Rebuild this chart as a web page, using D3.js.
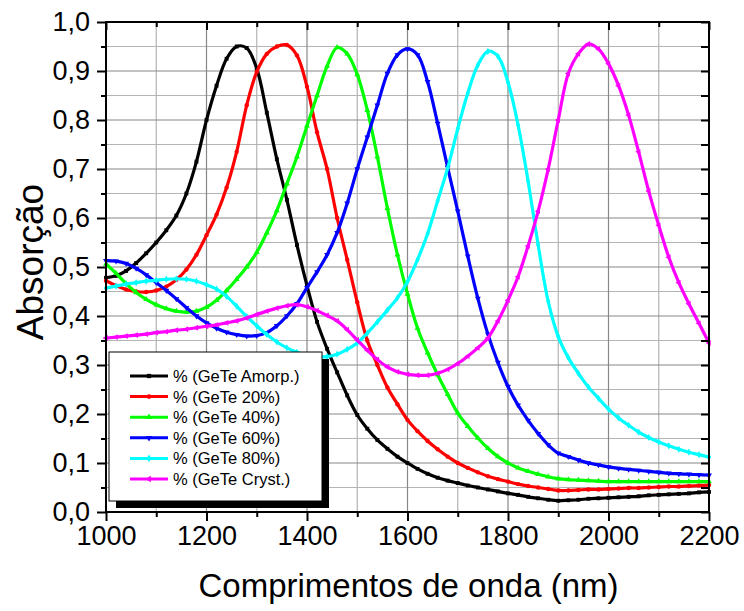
<!DOCTYPE html>
<html>
<head>
<meta charset="utf-8">
<script src="https://cdn.jsdelivr.net/npm/d3@7/dist/d3.min.js"></script>
<style>
body { margin: 0; background: #fff; }
svg { display: block; }
svg text { font-family: Arial, "Liberation Sans", Helvetica, sans-serif; fill: #000; }
</style>
</head>
<body>
<svg id="chart" width="744" height="611"></svg>
<script>
// wavelength grid (nm)
const wavelengths = d3.range(1000, 2201, 20);

const amorp = [0.478, 0.482, 0.492, 0.508, 0.528, 0.550, 0.575, 0.605, 0.650, 0.715,
    0.800, 0.870, 0.925, 0.950, 0.947, 0.905, 0.815, 0.720, 0.637, 0.545,
    0.462, 0.388, 0.333, 0.285, 0.238, 0.198, 0.170, 0.147, 0.129, 0.113,
    0.100, 0.088, 0.078, 0.070, 0.064, 0.059, 0.054, 0.050, 0.046, 0.042,
    0.038, 0.035, 0.031, 0.028, 0.025, 0.023, 0.024, 0.025, 0.027, 0.028,
    0.029, 0.030, 0.031, 0.032, 0.034, 0.035, 0.036, 0.037, 0.038, 0.040, 0.041];
const gete20 = [0.472, 0.462, 0.454, 0.450, 0.449, 0.452, 0.460, 0.474, 0.495, 0.525,
    0.565, 0.607, 0.662, 0.735, 0.830, 0.898, 0.935, 0.950, 0.953, 0.932,
    0.868, 0.775, 0.700, 0.600, 0.515, 0.428, 0.350, 0.300, 0.254, 0.220,
    0.188, 0.165, 0.145, 0.128, 0.113, 0.100, 0.090, 0.081, 0.073, 0.067,
    0.062, 0.057, 0.053, 0.050, 0.047, 0.044, 0.044, 0.045, 0.046, 0.046,
    0.047, 0.048, 0.049, 0.049, 0.050, 0.051, 0.052, 0.052, 0.053, 0.054, 0.055];
const gete40 = [0.506, 0.487, 0.466, 0.448, 0.434, 0.423, 0.415, 0.410, 0.408, 0.410,
    0.418, 0.432, 0.452, 0.475, 0.500, 0.530, 0.570, 0.615, 0.670, 0.725,
    0.788, 0.850, 0.910, 0.948, 0.935, 0.893, 0.820, 0.725, 0.620, 0.525,
    0.445, 0.375, 0.325, 0.280, 0.240, 0.202, 0.175, 0.151, 0.130, 0.113,
    0.100, 0.090, 0.083, 0.077, 0.072, 0.068, 0.066, 0.065, 0.064, 0.063,
    0.062, 0.062, 0.062, 0.062, 0.062, 0.062, 0.062, 0.062, 0.062, 0.062, 0.062];
const gete60 = [0.513, 0.512, 0.507, 0.497, 0.484, 0.468, 0.452, 0.435, 0.417, 0.400,
    0.386, 0.375, 0.367, 0.362, 0.359, 0.360, 0.366, 0.380, 0.400, 0.425,
    0.458, 0.490, 0.525, 0.570, 0.630, 0.700, 0.765, 0.830, 0.895, 0.933,
    0.945, 0.933, 0.878, 0.793, 0.703, 0.614, 0.522, 0.436, 0.363, 0.305,
    0.256, 0.218, 0.187, 0.160, 0.137, 0.120, 0.113, 0.106, 0.100, 0.096,
    0.092, 0.089, 0.087, 0.085, 0.083, 0.081, 0.079, 0.078, 0.077, 0.076, 0.075];
const gete80 = [0.457, 0.461, 0.465, 0.468, 0.471, 0.473, 0.475, 0.476, 0.475, 0.471,
    0.464, 0.455, 0.440, 0.420, 0.399, 0.380, 0.362, 0.347, 0.335, 0.326,
    0.320, 0.317, 0.317, 0.322, 0.332, 0.345, 0.365, 0.388, 0.412, 0.437,
    0.470, 0.515, 0.568, 0.635, 0.702, 0.782, 0.855, 0.912, 0.940, 0.930,
    0.877, 0.790, 0.675, 0.545, 0.430, 0.358, 0.315, 0.283, 0.255, 0.232,
    0.210, 0.192, 0.177, 0.163, 0.152, 0.143, 0.135, 0.128, 0.122, 0.117, 0.112];
const cryst = [0.355, 0.357, 0.359, 0.361, 0.363, 0.366, 0.368, 0.371, 0.373, 0.376,
    0.379, 0.382, 0.386, 0.390, 0.396, 0.403, 0.410, 0.416, 0.421, 0.423,
    0.419, 0.411, 0.401, 0.390, 0.372, 0.351, 0.330, 0.311, 0.296, 0.286,
    0.281, 0.279, 0.279, 0.283, 0.291, 0.303, 0.318, 0.335, 0.355, 0.390,
    0.432, 0.480, 0.543, 0.614, 0.700, 0.800, 0.895, 0.935, 0.955, 0.945,
    0.915, 0.870, 0.810, 0.735, 0.655, 0.585, 0.520, 0.468, 0.425, 0.385, 0.345];

const seriesNames = ["% (GeTe Amorp.)", "% (GeTe 20%)", "% (GeTe 40%)",
    "% (GeTe 60%)", "% (GeTe 80%)", "% (GeTe Cryst.)"];
const seriesValues = [amorp, gete20, gete40, gete60, gete80, cryst];
const seriesColors = ["#000000", "#ff0000", "#00ff00", "#0000ff", "#00ffff", "#ff00ff"];
const seriesSymbols = [
    [d3.symbolSquare, 0], [d3.symbolCircle, 0], [d3.symbolTriangle, 0],
    [d3.symbolTriangle, 180], [d3.symbolDiamond, 0], [d3.symbolTriangle, -90]
];

const xMajor = [1000, 1200, 1400, 1600, 1800, 2000, 2200];
const xMinor = [1100, 1300, 1500, 1700, 1900, 2100];
const yMajor = [0, 0.1, 0.2, 0.3, 0.4, 0.5, 0.6, 0.7, 0.8, 0.9, 1.0];
const yMinor = [0.05, 0.15, 0.25, 0.35, 0.45, 0.55, 0.65, 0.75, 0.85, 0.95];

const xTitle = "Comprimentos de onda (nm)";
const yTitle = "Absorção";

const margin = { left: 106, top: 22, right: 35, bottom: 99 };
const W = 744, H = 611;
const pw = W - margin.left - margin.right;
const ph = H - margin.top - margin.bottom;

const svg = d3.select("#chart");
const g = svg.append("g").attr("transform", `translate(${margin.left},${margin.top})`);

const x = d3.scaleLinear().domain([1000, 2200]).range([0, pw]);
const y = d3.scaleLinear().domain([0, 1.0]).range([ph, 0]);

const fmt = d3.formatLocale({ decimal: ",", thousands: ".", grouping: [3], currency: ["", ""] });
const yFmt = fmt.format(".1f");

// grid
g.append("g").selectAll("line").data(xMinor).join("line")
    .attr("x1", d => x(d)).attr("x2", d => x(d)).attr("y1", 0).attr("y2", ph)
    .attr("stroke", "#b4b4b4").attr("stroke-width", 1.2);
g.append("g").selectAll("line").data(yMinor).join("line")
    .attr("x1", 0).attr("x2", pw).attr("y1", d => y(d)).attr("y2", d => y(d))
    .attr("stroke", "#b4b4b4").attr("stroke-width", 1.2);
g.append("g").selectAll("line").data(xMajor).join("line")
    .attr("x1", d => x(d)).attr("x2", d => x(d)).attr("y1", 0).attr("y2", ph)
    .attr("stroke", "#888").attr("stroke-width", 1.2);
g.append("g").selectAll("line").data(yMajor).join("line")
    .attr("x1", 0).attr("x2", pw).attr("y1", d => y(d)).attr("y2", d => y(d))
    .attr("stroke", "#888").attr("stroke-width", 1.2);

// curves
svg.append("defs").append("clipPath").attr("id", "plotclip")
    .append("rect").attr("x", -3).attr("y", -3).attr("width", pw + 6).attr("height", ph + 6);

const line = d3.line()
    .x((d, i) => x(wavelengths[i]))
    .y(d => y(d))
    .curve(d3.curveCatmullRom.alpha(0.5));

const curves = g.append("g").attr("clip-path", "url(#plotclip)");
seriesValues.forEach((vals, k) => {
    curves.append("path")
        .attr("d", line(vals))
        .attr("fill", "none")
        .attr("stroke", seriesColors[k])
        .attr("stroke-width", 3.2);
    const sym = d3.symbol().type(seriesSymbols[k][0]).size(15);
    curves.append("g").selectAll("path").data(vals).join("path")
        .attr("d", sym)
        .attr("transform", (d, i) => `translate(${x(wavelengths[i])},${y(d)}) rotate(${seriesSymbols[k][1]})`)
        .attr("fill", seriesColors[k]);
});

// axes
const fontTick = 27;
const bottomAxis = g.append("g").attr("transform", `translate(0,${ph})`)
    .call(d3.axisBottom(x).tickValues(xMajor).tickSize(9).tickPadding(5).tickFormat(d3.format("d")));
g.append("g").attr("transform", `translate(0,${ph})`)
    .call(d3.axisBottom(x).tickValues(xMinor).tickSize(5).tickFormat(""));
g.append("g")
    .call(d3.axisTop(x).tickValues(xMajor).tickSize(-8).tickFormat(""));
g.append("g")
    .call(d3.axisTop(x).tickValues(xMinor).tickSize(-5).tickFormat(""));
const leftAxis = g.append("g")
    .call(d3.axisLeft(y).tickValues(yMajor).tickSize(9).tickPadding(7).tickFormat(yFmt));
g.append("g")
    .call(d3.axisLeft(y).tickValues(yMinor).tickSize(5).tickFormat(""));
g.append("g").attr("transform", `translate(${pw},0)`)
    .call(d3.axisRight(y).tickValues(yMajor.concat(yMinor)).tickSize(-8).tickFormat(""));

g.selectAll(".domain").remove();
g.selectAll(".tick line").attr("stroke", "#000").attr("stroke-width", 2);
g.selectAll("g").attr("font-family", null);
bottomAxis.selectAll("text").attr("font-size", fontTick).attr("fill", "#000");
leftAxis.selectAll("text").attr("font-size", fontTick).attr("fill", "#000");

// frame
g.append("rect").attr("x", 0).attr("y", 0).attr("width", pw).attr("height", ph)
    .attr("fill", "none").attr("stroke", "#000").attr("stroke-width", 2);

// titles
svg.append("text")
    .attr("x", margin.left + pw / 2 + 1).attr("y", 597)
    .attr("text-anchor", "middle").attr("font-size", 33)
    .text(xTitle);
svg.append("text")
    .attr("transform", `translate(43,${margin.top + ph / 2 - 5}) rotate(-90)`)
    .attr("text-anchor", "middle").attr("font-size", 37)
    .text(yTitle);

// legend
const lg = svg.append("g").attr("transform", "translate(109,352)");
lg.append("rect").attr("x", 7).attr("y", 7).attr("width", 213).attr("height", 149).attr("fill", "#000");
lg.append("rect").attr("x", 0).attr("y", 0).attr("width", 213).attr("height", 149)
    .attr("fill", "#fff").attr("stroke", "#000").attr("stroke-width", 1);
seriesNames.forEach((name, k) => {
    const ry = 24 + k * 20.6;
    lg.append("line").attr("x1", 21).attr("x2", 59).attr("y1", ry).attr("y2", ry)
        .attr("stroke", seriesColors[k]).attr("stroke-width", 3);
    lg.append("path")
        .attr("d", d3.symbol().type(seriesSymbols[k][0]).size(18))
        .attr("transform", `translate(40,${ry}) rotate(${seriesSymbols[k][1]})`)
        .attr("fill", seriesColors[k]);
    lg.append("text").attr("x", 64).attr("y", ry).attr("dy", "0.36em")
        .attr("font-size", 16.5).text(name);
});
</script>
</body>
</html>
